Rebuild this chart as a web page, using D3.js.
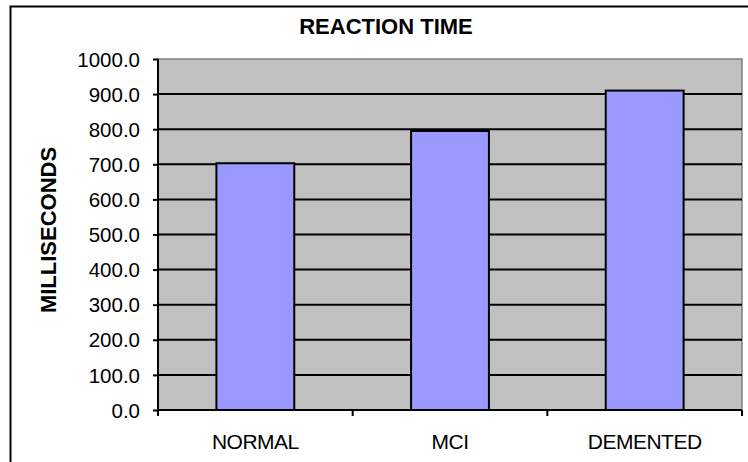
<!DOCTYPE html>
<html>
<head>
<meta charset="utf-8">
<script src="https://cdn.jsdelivr.net/npm/d3@7/dist/d3.min.js"></script>
<style>
  body { margin: 0; background: #fff; }
  text { font-family: Arial, "Liberation Sans", sans-serif; fill: #000; }
</style>
</head>
<body>
<div id="chart"></div>
<script>
// reaction time chart
var categories = ["NORMAL", "MCI", "DEMENTED"];
var values = [703, 795, 910];
var yTicks = [0, 100, 200, 300, 400, 500, 600, 700, 800, 900, 1000];

var W = 748, H = 462;
var margin = {top: 59, right: 6, bottom: 52, left: 158},
    w = W - margin.left - margin.right,
    h = H - margin.top - margin.bottom;

var svg = d3.select("#chart")
    .append("svg")
        .attr("width", W)
        .attr("height", H);

// outer chart frame (runs past right/bottom edge)
svg.append("rect")
    .attr("x", 10.5)
    .attr("y", 6.5)
    .attr("width", 800)
    .attr("height", 500)
    .attr("fill", "#fff")
    .attr("stroke", "#000")
    .attr("stroke-width", 2);

var g = svg.append("g")
    .attr("transform", "translate(" + margin.left + "," + margin.top + ")");

var x = d3.scaleBand()
    .domain(categories)
    .range([0, w])
    .paddingInner(0.6)
    .paddingOuter(0.3);

var y = d3.scaleLinear()
    .domain([0, 1000])
    .range([h, 0]);

// plot area
g.append("rect")
    .attr("width", w)
    .attr("height", h)
    .attr("fill", "#c0c0c0")
    .attr("stroke", "#808080")
    .attr("stroke-width", 1.5);

// gridlines
g.selectAll(".grid")
    .data(yTicks.filter(function(d){ return d > 0 && d < 1000; }))
    .enter().append("line")
        .attr("class", "grid")
        .attr("x1", 0)
        .attr("x2", w)
        .attr("y1", function(d){ return y(d); })
        .attr("y2", function(d){ return y(d); })
        .attr("stroke", "#000")
        .attr("stroke-width", 2);

// bars
g.selectAll(".bar")
    .data(values)
    .enter().append("rect")
        .attr("class", "bar")
        .attr("x", function(d, i){ return x(categories[i]); })
        .attr("width", x.bandwidth())
        .attr("y", function(d){ return y(d); })
        .attr("height", function(d){ return h - y(d); })
        .attr("fill", "#9999ff")
        .attr("stroke", "#000")
        .attr("stroke-width", 2);

// y axis
var yAxis = g.append("g")
    .call(d3.axisLeft(y)
        .tickValues(yTicks)
        .tickSize(5)
        .tickPadding(13)
        .tickFormat(d3.format(".1f")));
yAxis.selectAll("line, path").attr("stroke", "#000").attr("stroke-width", 2);
yAxis.select(".domain").attr("d", "M0,0V" + h);
yAxis.selectAll("text")
    .style("font-size", "20.5px")
    .attr("dy", "0.35em");

// x axis with ticks between categories
var step = w / categories.length;
var xAxis = g.append("g")
    .attr("transform", "translate(0," + h + ")");
xAxis.append("line")
    .attr("x1", 0).attr("x2", w)
    .attr("stroke", "#000").attr("stroke-width", 2);
xAxis.selectAll(".tick")
    .data(d3.range(categories.length + 1))
    .enter().append("line")
        .attr("x1", function(d){ return d * step; })
        .attr("x2", function(d){ return d * step; })
        .attr("y1", 0).attr("y2", 6)
        .attr("stroke", "#000").attr("stroke-width", 2);
xAxis.selectAll(".lab")
    .data(categories)
    .enter().append("text")
        .attr("x", function(d){ return x(d) + x.bandwidth() / 2; })
        .attr("y", 39)
        .attr("text-anchor", "middle")
        .style("font-size", "21px")
        .style("letter-spacing", "-0.5px")
        .text(function(d){ return d; });

// title
svg.append("text")
    .attr("x", 386)
    .attr("y", 34)
    .attr("text-anchor", "middle")
    .style("font-size", "22px")
    .style("font-weight", "bold")
    .text("REACTION TIME");

// y axis title
svg.append("text")
    .attr("transform", "translate(56," + 230 + ") rotate(-90)")
    .attr("text-anchor", "middle")
    .style("font-size", "22px")
    .style("font-weight", "bold")
    .text("MILLISECONDS");
</script>
</body>
</html>
